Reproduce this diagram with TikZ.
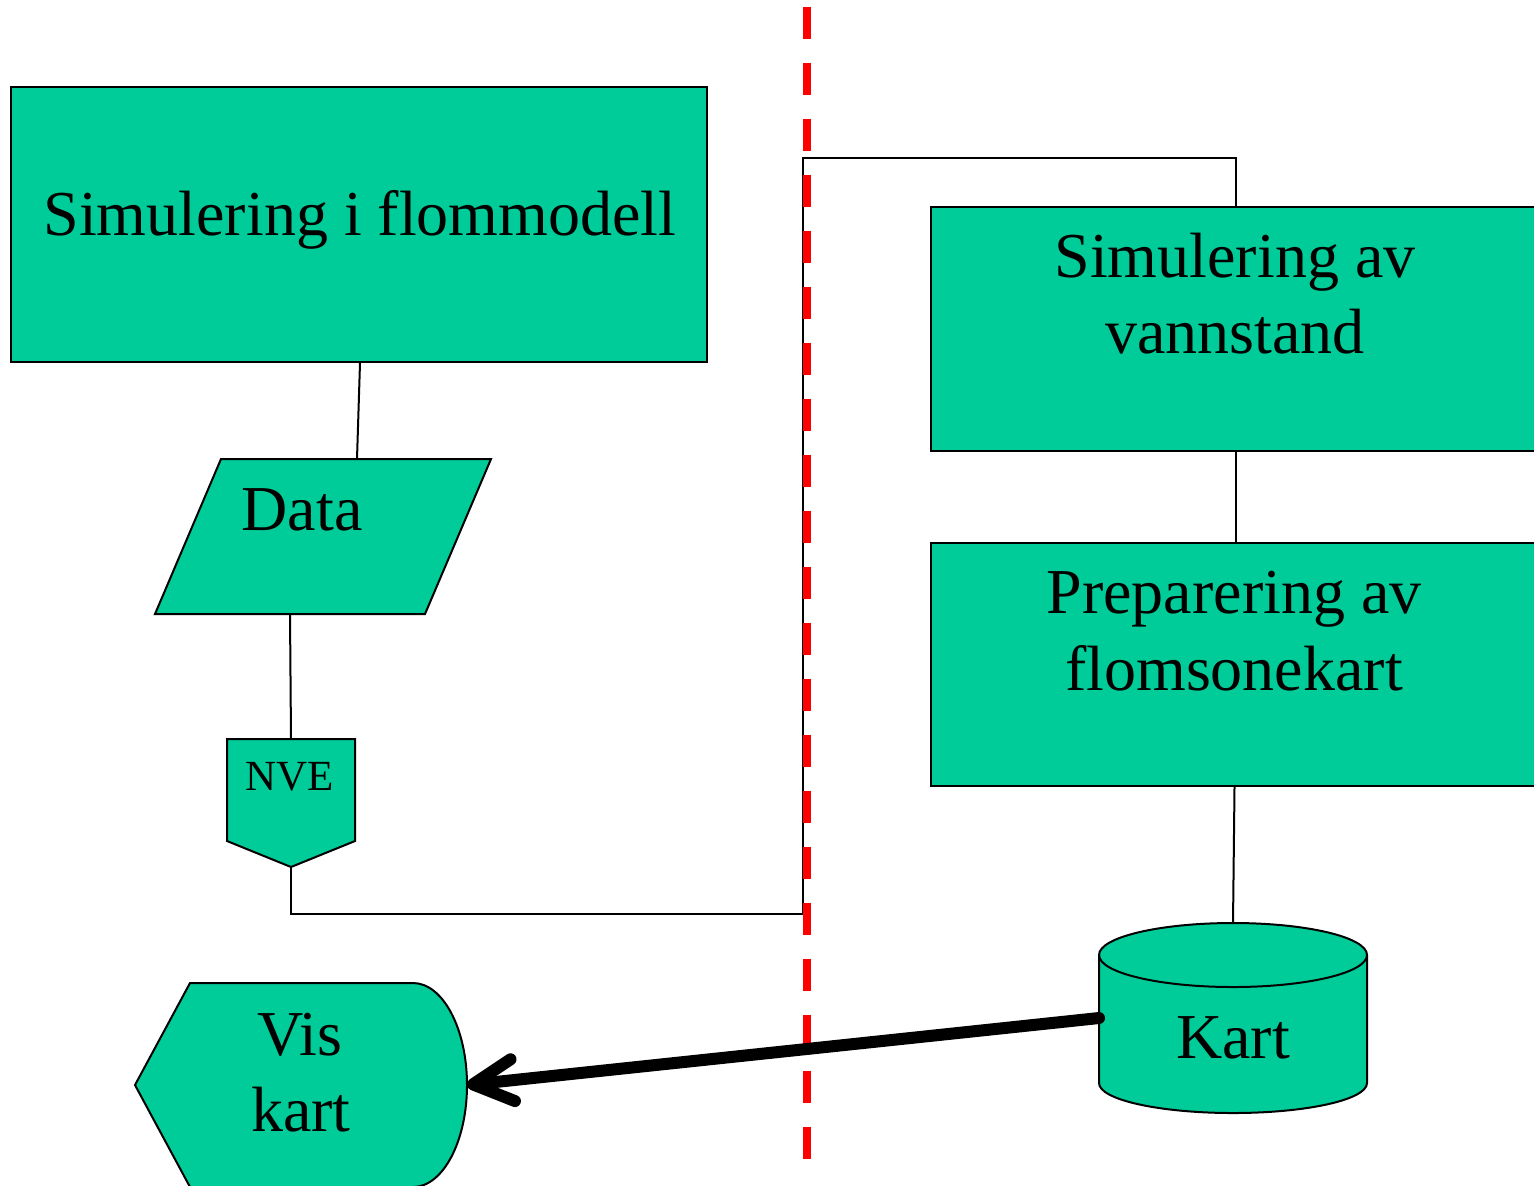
\documentclass[tikz,border=0pt]{standalone}
\usepackage{fontspec}
\setmainfont{Liberation Serif}
\usetikzlibrary{arrows.meta}
\definecolor{flowgreen}{RGB}{0,204,153}
\begin{document}
\begin{tikzpicture}[x=0.5pt,y=-0.5pt,
  flowshape/.style={fill=flowgreen, draw=black, line width=1pt},
  flowbox/.style={flowshape, rectangle, inner sep=0pt},
  link/.style={draw=black, line width=1pt},
  txt/.style={anchor=base, inner sep=0pt, font=\fontsize{32}{38}\selectfont},
  smalltxt/.style={anchor=base, inner sep=0pt, font=\fontsize{21.5}{26}\selectfont},
  divider/.style={draw=red, line width=4pt, dash pattern=on 16pt off 12pt},
  bigarrow/.style={draw=black, line width=6pt, line cap=round,
    -{Straight Barb[length=20pt, width=21pt, round, line width=6pt]}}]
\clip (0,0) rectangle (1534,1185);
\fill[white] (0,0) rectangle (1534,1185);

% process boxes
\node[flowbox, minimum width=348pt, minimum height=137.5pt] (simA) at (359,224.5) {};
\node[flowbox, minimum width=305pt, minimum height=122pt] (simB) at (1235.5,329) {};
\node[flowbox, minimum width=305pt, minimum height=121.5pt] (prep) at (1235.5,664.5) {};

% data (parallelogram)
\path[flowshape] (155,614) -- (221,459) -- (491,459) -- (425,614) -- cycle;
\coordinate (data-n) at (357,459);
\coordinate (data-s) at (290,614);

% off-page connector
\path[flowshape] (227,739) -- (355,739) -- (355,841) -- (291,867) -- (227,841) -- cycle;
\coordinate (nve-n) at (291,739);
\coordinate (nve-s) at (291,867);

% stored data (cylinder)
\path[flowshape] (1099,955) -- (1099,1083)
  arc[start angle=180, end angle=0, x radius=134, y radius=30]
  -- (1367,955)
  arc[start angle=0, end angle=-180, x radius=134, y radius=32] -- cycle;
\draw[line width=1pt] (1099,955) arc[start angle=180, end angle=0, x radius=134, y radius=32];
\coordinate (kart-n) at (1233,923);
\coordinate (kart-w) at (1099,1018);

% display
\path[flowshape] (135,1085) -- (190,983) -- (413,983)
  arc[start angle=-90, end angle=0, x radius=54, y radius=102]
  arc[start angle=0, end angle=90, x radius=54, y radius=102]
  -- (190,1187) -- cycle;
\coordinate (vis-e) at (467,1085);

% texts
\node[txt] (simA-t) at (360,235) {Simulering i flommodell};
\node[txt] (simB-t1) at (1235,277) {Simulering av};
\node[txt] (simB-t2) at (1235,353) {vannstand};
\node[txt] (prep-t1) at (1234,613) {Preparering av};
\node[txt] (prep-t2) at (1234,690) {flomsonekart};
\node[txt] (data-t) at (302,530) {Data};
\node[smalltxt] (nve-t) at (290,790) {NVE};
\node[txt] (kart-t) at (1233,1058) {Kart};
\node[txt] (vis-t1) at (300,1055) {Vis};
\node[txt] (vis-t2) at (301,1131) {kart};

% connectors
\draw[link] ([xshift=0.5pt]simA.south) -- (data-n);
\draw[link] (data-s) -- (nve-n);
\draw[link] (nve-s) |- (802.5,914) -- (802.5,158) -| (simB.north);
\draw[link] (simB.south) -- (prep.north);
\draw[link] ([xshift=-0.5pt]prep.south) -- (kart-n);

% dividing line
\coordinate (div-top) at (807,7);
\coordinate (div-bot) at (807,1159);
\draw[divider] (div-top) -- (div-bot);

% result arrow
\draw[bigarrow] (kart-w) -- (vis-e);
\end{tikzpicture}
\end{document}
